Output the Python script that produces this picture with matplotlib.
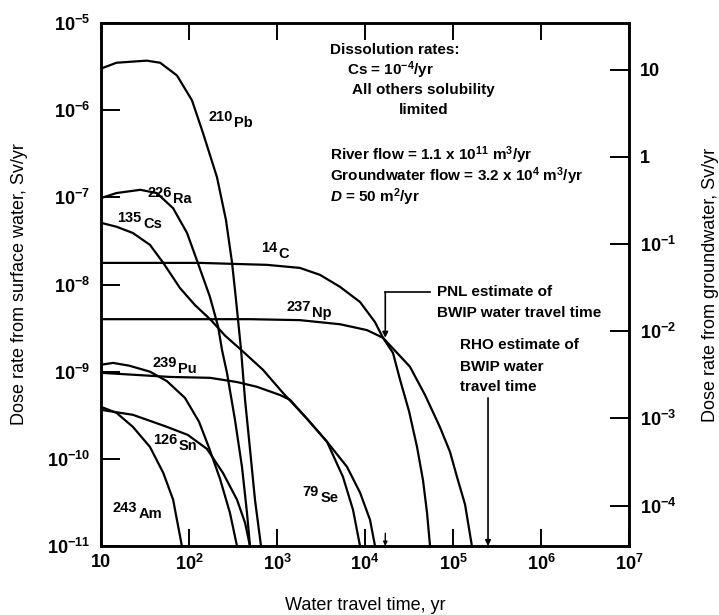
import matplotlib
matplotlib.use("Agg")
import matplotlib.pyplot as plt
from matplotlib.ticker import FixedLocator, FixedFormatter, NullLocator

plt.rcParams["font.family"] = ["Liberation Sans", "DejaVu Sans"]
plt.rcParams["font.weight"] = "bold"
plt.rcParams["mathtext.fontset"] = "custom"
plt.rcParams["mathtext.rm"] = "Liberation Sans:bold"
plt.rcParams["mathtext.it"] = "Liberation Sans:bold:italic"
plt.rcParams["mathtext.bf"] = "Liberation Sans:bold"
plt.rcParams["mathtext.sf"] = "Liberation Sans:bold"
plt.rcParams["mathtext.default"] = "rm"

# ---- dose rate from surface water (Sv/yr) versus water travel time (yr) ----
pb210_t = [10, 15, 33, 47, 73, 108, 144, 208, 263, 308, 342, 390, 433, 493, 562, 658]
pb210_d = [3.0e-6, 3.5e-6, 3.7e-6, 3.5e-6, 2.5e-6, 1.3e-6, 5.5e-7, 1.7e-7, 5.5e-8,
           1.8e-8, 6.7e-9, 1.8e-9, 4.8e-10, 1.3e-10, 3.4e-11, 1.0e-11]

ra226_t = [10, 15, 28, 43, 66, 95, 126, 173, 214, 237, 270, 333, 400, 456, 493]
ra226_d = [9.8e-8, 1.12e-7, 1.22e-7, 1.12e-7, 7.5e-8, 3.9e-8, 1.77e-8, 7.2e-9, 3.3e-9,
           1.78e-9, 9.7e-10, 2.8e-10, 8.1e-11, 2.4e-11, 1.0e-11]

cs135_t = [10, 15, 23, 36, 51, 79, 117, 178, 256, 411, 693, 1170, 2250, 3700, 5620, 7310, 8780]
cs135_d = [5.1e-8, 4.6e-8, 3.9e-8, 2.85e-8, 1.77e-8, 9.1e-9, 5.8e-9, 3.9e-9, 2.6e-9,
           1.7e-9, 1.05e-9, 5.7e-10, 2.8e-10, 1.57e-10, 6.2e-11, 2.6e-11, 1.0e-11]

c14_t = [10, 133, 769, 1820, 3080, 5200, 8780, 13000, 16000, 20800, 25000, 31700,
         39000, 45600, 50700, 54800]
c14_d = [1.77e-8, 1.77e-8, 1.68e-8, 1.55e-8, 1.29e-8, 9.4e-9, 6.3e-9, 3.7e-9, 2.45e-9,
         1.64e-9, 8.1e-10, 3.5e-10, 1.37e-10, 5.7e-11, 2.4e-11, 1.0e-11]

np237_t = [10, 493, 1820, 5200, 10500, 16000, 32400, 48100, 71200, 92500, 111000,
           137000, 164000]
np237_d = [4.0e-9, 4.0e-9, 3.9e-9, 3.5e-9, 3.0e-9, 2.45e-9, 1.14e-9, 5.4e-10, 2.3e-10,
           1.2e-10, 6.2e-11, 3.0e-11, 1.0e-11]

pu239_t = [10, 13.7, 21, 36, 56, 90, 130, 169, 225, 292, 351]
pu239_d = [1.2e-9, 1.26e-9, 1.17e-9, 1.0e-9, 7.8e-10, 5.0e-10, 2.66e-10, 1.34e-10,
           5.9e-11, 2.4e-11, 1.0e-11]

se79_t = [10, 61, 173, 351, 593, 1080, 1410, 2250, 3700, 6240, 8780, 11400, 13000]
se79_d = [9.7e-10, 8.7e-10, 8.5e-10, 7.6e-10, 6.7e-10, 5.4e-10, 4.75e-10, 2.8e-10,
          1.57e-10, 8.1e-11, 4.1e-11, 2.0e-11, 1.0e-11]

sn126_t = [10, 23, 56, 97, 160, 243, 351, 433, 493]
sn126_d = [3.65e-10, 3.2e-10, 2.33e-10, 1.88e-10, 1.3e-10, 6.9e-11, 3.4e-11, 1.85e-11, 1.0e-11]

am243_t = [10, 15, 23, 36, 51, 66, 83]
am243_d = [3.95e-10, 3.37e-10, 2.33e-10, 1.37e-10, 6.9e-11, 3.4e-11, 1.0e-11]

curves = [
    (pb210_t, pb210_d), (ra226_t, ra226_d), (cs135_t, cs135_d), (c14_t, c14_d),
    (np237_t, np237_d), (pu239_t, pu239_d), (se79_t, se79_d), (sn126_t, sn126_d),
    (am243_t, am243_d),
]

# isotope labels: mass number, element, and where each label sits
mass_numbers = ["210", "226", "135", "14", "237", "239", "126", "243", "79"]
elements = ["Pb", "Ra", "Cs", "C", "Np", "Pu", "Sn", "Am", "Se"]
label_t = [316, 64, 29, 1000, 2430, 73, 73, 25.6, 3000]
label_d = [6.4e-7, 8.6e-8, 4.46e-8, 2.02e-8, 4.25e-9, 9.7e-10, 1.27e-10, 2.1e-11, 3.2e-11]

# flows that set the groundwater / surface-water scale ratio
river_flow = 1.1e11        # m^3/yr
groundwater_flow = 3.2e4   # m^3/yr

# travel time estimates for BWIP
pnl_time = 1.7e4
rho_time = 2.5e5

x_ticks = [10, 1e2, 1e3, 1e4, 1e5, 1e6, 1e7]
x_labels = ["10", "$10^2$", "$10^3$", "$10^4$", "$10^5$", "$10^6$", "$10^7$"]
y_ticks = [1e-11, 1e-10, 1e-9, 1e-8, 1e-7, 1e-6, 1e-5]
y_labels = ["$10^{-11}$", "$10^{-10}$", "$10^{-9}$", "$10^{-8}$", "$10^{-7}$",
            "$10^{-6}$", "$10^{-5}$"]
gw_ticks = [1e-4, 1e-3, 1e-2, 1e-1, 1, 10]
gw_labels = ["$10^{-4}$", "$10^{-3}$", "$10^{-2}$", "$10^{-1}$", "1", "10"]

fig = plt.figure(figsize=(7.19, 6.15), dpi=100)
ax = fig.add_axes([101 / 719, 1 - 546 / 615, 528 / 719, 523 / 615])

ax.set_xscale("log")
ax.set_yscale("log")
ax.set_xlim(10, 1e7)
ax.set_ylim(1e-11, 1e-5)

for t, d in curves:
    ax.plot(t, d, color="black", lw=1.6, solid_joinstyle="round", solid_capstyle="butt")

for num, el, t, d in zip(mass_numbers, elements, label_t, label_d):
    ax.annotate(num, xy=(t, d), xytext=(0, 4.5), textcoords="offset points",
                ha="right", va="baseline", fontsize=10.5)
    ax.annotate(el, xy=(t, d), xytext=(1, 0), textcoords="offset points",
                ha="left", va="baseline", fontsize=10.5)

# PNL estimate marker
arrow = dict(arrowstyle="-|>", color="black", lw=1.2, mutation_scale=8,
             shrinkA=0, shrinkB=0)
ax.plot([pnl_time, 5.5e4], [8.2e-9, 8.2e-9], color="black", lw=1.2)
ax.annotate("", xy=(pnl_time, 2.45e-9), xytext=(pnl_time, 8.2e-9), arrowprops=arrow)
ax.annotate("", xy=(pnl_time, 1.0e-11), xytext=(pnl_time, 1.4e-11),
            arrowprops=dict(arrow, lw=1.0, mutation_scale=6))
# RHO estimate marker
ax.annotate("", xy=(rho_time, 1.0e-11), xytext=(rho_time, 5.0e-10), arrowprops=arrow)

note_fs = 11
tx = ax.transAxes
ax.text(0.434, 0.948, "Dissolution rates:", transform=tx, fontsize=note_fs, va="center")
ax.text(0.466, 0.909, "Cs = $10^{-4}$/yr", transform=tx, fontsize=note_fs, va="center")
ax.text(0.475, 0.871, "All others solubility", transform=tx, fontsize=note_fs, va="center")
ax.text(0.564, 0.833, "limited", transform=tx, fontsize=note_fs, va="center")
ax.text(0.434, 0.748, "River flow = 1.1 x $10^{11}$ m$^3$/yr", transform=tx,
        fontsize=note_fs, va="center")
ax.text(0.434, 0.707, "Groundwater flow = 3.2 x $10^4$ m$^3$/yr", transform=tx,
        fontsize=note_fs, va="center")
ax.text(0.434, 0.666, "$\\mathit{D}$ = 50 m$^2$/yr", transform=tx, fontsize=note_fs, va="center")

ax.text(0.636, 0.486, "PNL estimate of", transform=tx, fontsize=note_fs, va="center")
ax.text(0.636, 0.446, "BWIP water travel time", transform=tx, fontsize=note_fs, va="center")
ax.text(0.680, 0.384, "RHO estimate of", transform=tx, fontsize=note_fs, va="center")
ax.text(0.680, 0.342, "BWIP water", transform=tx, fontsize=note_fs, va="center")
ax.text(0.680, 0.304, "travel time", transform=tx, fontsize=note_fs, va="center")

# axes, ticks and labels
ax.xaxis.set_major_locator(FixedLocator(x_ticks))
ax.xaxis.set_major_formatter(FixedFormatter(x_labels))
ax.xaxis.set_minor_locator(NullLocator())
ax.yaxis.set_major_locator(FixedLocator(y_ticks))
ax.yaxis.set_major_formatter(FixedFormatter(y_labels))
ax.yaxis.set_minor_locator(NullLocator())
ax.tick_params(axis="x", which="major", direction="in", top=True, bottom=True,
               length=12, width=1.4, labelsize=13, pad=6)
ax.tick_params(axis="y", which="major", direction="in", left=True, right=False,
               length=14, width=1.4, labelsize=13, pad=8)
for s in ax.spines.values():
    s.set_linewidth(1.8)

ax.set_xlabel("Water travel time, yr", fontsize=13, labelpad=16)
ax.set_ylabel("Dose rate from surface water, Sv/yr", fontsize=13)
ax.yaxis.set_label_coords(-0.138, 0.5)

ax2 = ax.twinx()
ax2.set_yscale("log")
ratio = river_flow / groundwater_flow
ax2.set_ylim(1e-11 * ratio, 1e-5 * ratio)
ax2.yaxis.set_major_locator(FixedLocator(gw_ticks))
ax2.yaxis.set_major_formatter(FixedFormatter(gw_labels))
ax2.yaxis.set_minor_locator(NullLocator())
ax2.tick_params(axis="y", which="major", direction="in", right=True, left=False,
                length=14, width=1.4, labelsize=13, pad=8)
ax2.set_ylabel("Dose rate from groundwater, Sv/yr", fontsize=13)
ax2.yaxis.set_label_coords(1.138, 0.5)
for s in ax2.spines.values():
    s.set_linewidth(1.8)

fig.savefig("out.png", dpi=100)
